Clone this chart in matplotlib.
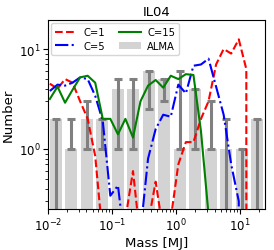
import numpy as np
import matplotlib
matplotlib.use("Agg")
from matplotlib import pyplot as plt

# mass grid of the model curves (MJ)
mass = [0.0107, 0.0141, 0.0185, 0.0242, 0.0318, 0.0417, 0.0547, 0.0718,
        0.0942, 0.124, 0.162, 0.213, 0.279, 0.366, 0.481, 0.631, 0.828,
        1.086, 1.426, 1.871, 2.455, 3.221, 4.227, 5.546, 7.278, 9.55,
        12.53, 16.44]

# model counts for three values of C (0 = empty bin)
c1 = [4.5, 4.0, 5.0, 4.6, 3.0, 2.0, 0.85, 0.13, 0, 0, 0.2, 0.6, 0.12, 0.18,
      0.47, 0.15, 0.2, 0.7, 1.17, 1.17, 2.0, 3.0, 7.0, 10.0, 9.0, 12.5, 6.3, 0]
c5 = [3.8, 4.4, 4.3, 4.6, 5.2, 5.0, 3.4, 1.9, 0.34, 0.43, 0.1, 0, 0.15, 0.8,
      1.58, 2.2, 2.1, 4.4, 3.6, 6.8, 7.0, 8.0, 4.2, 2.2, 0.7, 0.3, 0, 0]
c15 = [3.16, 4.2, 2.9, 3.9, 5.2, 5.4, 4.6, 2.0, 2.0, 1.4, 2.0, 1.3, 3.0, 4.3,
       4.9, 4.1, 5.4, 5.0, 5.6, 5.5, 1.5, 0.22, 0, 0, 0, 0, 0, 0]

# ALMA histogram: counts and error bar ends
alma = [2, 1, 2, 2, 4, 4, 6, 5, 1, 4, 1, 1, 1, 2]
alma_hi = [2, 2, 3, 2, 5, 5, 6, 5, 6, 4, 3, 2, 1, 2]
alma_lo = [0, 1, 1, 1, 1, 1, 2.5, 3, 1, 1, 1, 0, 0, 0]

# 14 log bins between 0.01 and ~24.5 MJ
edges = np.logspace(-2, 1.39, 15)
logc = 0.5 * (np.log10(edges[:-1]) + np.log10(edges[1:]))
half = 0.4 * (np.log10(edges[1]) - np.log10(edges[0]))
left = 10 ** (logc - half)
right = 10 ** (logc + half)
centers = 10 ** logc

alma = np.array(alma, float)
yerr = [alma - np.array(alma_lo), np.array(alma_hi) - alma]

fig = plt.figure(figsize=(2.74, 2.51), dpi=100)
ax = fig.add_axes([0.175, 0.163, 0.792, 0.755])

ax.bar(left, alma, width=right - left, align="edge", color="lightgray",
       label="ALMA", zorder=1)
ax.errorbar(centers, alma, yerr=yerr, fmt="none", ecolor="gray",
            elinewidth=2.2, capsize=3, capthick=2.2, zorder=2)

ax.plot(mass, c1, "r--", lw=1.5, label="C=1", zorder=3)
ax.plot(mass, c5, "b-.", lw=1.5, label="C=5", zorder=3)
ax.plot(mass, c15, "g-", lw=1.5, label="C=15", zorder=3)

ax.set_xscale("log")
ax.set_yscale("log")
ax.set_xlim(0.01, 24.5)
ax.set_ylim(0.25, 19.7)
ax.tick_params(labelsize=8.5, pad=2)

ax.legend(ncol=2, loc="upper left", fontsize=7.2, handlelength=2.2,
          columnspacing=1.4, borderaxespad=0.35, handletextpad=0.6,
          labelspacing=0.35)

ax.set_xlabel("Mass [MJ]", fontsize=9.5, labelpad=2)
ax.set_ylabel("Number", fontsize=9.5, labelpad=3)
ax.set_title("IL04", fontsize=9.5, pad=3)

fig.savefig("out.png", dpi=100)
